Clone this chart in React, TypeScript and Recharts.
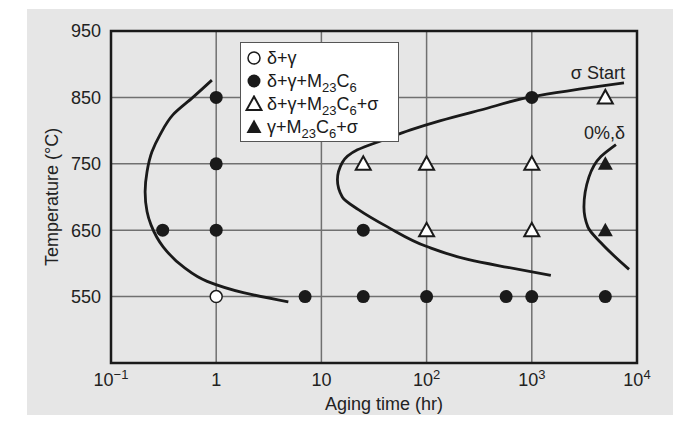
import React from 'react'
import {
  ComposedChart,
  Line,
  Scatter,
  XAxis,
  YAxis,
  CartesianGrid,
  ReferenceArea,
  ReferenceDot,
  Legend,
} from 'recharts'

// aging time (hr) / temperature (°C) observations
const openCircles = [{ t: 1, T: 550 }]
const filledCircles = [
  { t: 1, T: 850 },
  { t: 1, T: 750 },
  { t: 1, T: 650 },
  { t: 0.31, T: 650 },
  { t: 7, T: 550 },
  { t: 25, T: 650 },
  { t: 25, T: 550 },
  { t: 100, T: 550 },
  { t: 570, T: 550 },
  { t: 1000, T: 550 },
  { t: 1000, T: 850 },
  { t: 5000, T: 550 },
]
const openTriangles = [
  { t: 25, T: 750 },
  { t: 100, T: 750 },
  { t: 100, T: 650 },
  { t: 1000, T: 750 },
  { t: 1000, T: 650 },
  { t: 5000, T: 850 },
]
const filledTriangles = [
  { t: 5000, T: 750 },
  { t: 5000, T: 650 },
]

// boundary curves
const carbideCurve = [
  { t: 0.91, T: 876 },
  { t: 0.6, T: 850 },
  { t: 0.389, T: 824 },
  { t: 0.293, T: 794 },
  { t: 0.245, T: 768 },
  { t: 0.22, T: 738 },
  { t: 0.211, T: 708 },
  { t: 0.22, T: 678 },
  { t: 0.24, T: 658 },
  { t: 0.313, T: 625 },
  { t: 0.485, T: 595 },
  { t: 0.82, T: 573 },
  { t: 1.81, T: 556 },
  { t: 4.85, T: 542 },
]
const sigmaStartCurve = [
  { t: 7520, T: 872 },
  { t: 1000, T: 851 },
  { t: 327, T: 831 },
  { t: 136, T: 815 },
  { t: 70.5, T: 801 },
  { t: 39, T: 786 },
  { t: 22, T: 771 },
  { t: 15.8, T: 752 },
  { t: 14.2, T: 726 },
  { t: 15.8, T: 700 },
  { t: 22.5, T: 681 },
  { t: 42.5, T: 655 },
  { t: 102, T: 625 },
  { t: 246, T: 606 },
  { t: 590, T: 594 },
  { t: 1517, T: 582 },
]
const deltaZeroCurve = [
  { t: 6310, T: 779 },
  { t: 4540, T: 761 },
  { t: 3490, T: 730 },
  { t: 3130, T: 685 },
  { t: 3410, T: 655 },
  { t: 4540, T: 631 },
  { t: 8400, T: 591 },
]

const xTicks = [0.1, 1, 10, 100, 1000, 10000]
const xTickBase = ['10', '1', '10', '10', '10', '10']
const xTickSup = ['−1', '', '', '2', '3', '4']
const yTicks = [550, 650, 750, 850, 950]

const legendLabels = ['δ+γ', 'δ+γ+M_23C_6', 'δ+γ+M_23C_6+σ', 'γ+M_23C_6+σ']
const legendMarkers = ['openCircle', 'circle', 'openTriangle', 'triangle']

const INK = '#1a1a1a'
const FONT = '"Liberation Sans", Arial, Helvetica, sans-serif'

const drawMarker = (kind: string, cx: number, cy: number) => {
  if (kind === 'circle') return <circle cx={cx} cy={cy} r={6.5} fill={INK} />
  if (kind === 'openCircle')
    return <circle cx={cx} cy={cy} r={6} fill="#fff" stroke={INK} strokeWidth={1.5} />
  const pts = `${cx - 7.5},${cy + 6} ${cx + 7.5},${cy + 6} ${cx},${cy - 7.5}`
  if (kind === 'triangle') return <polygon points={pts} fill={INK} />
  return <polygon points={pts} fill="#fff" stroke={INK} strokeWidth={2} strokeLinejoin="miter" />
}

const shapeOf = (kind: string) => (p: any) => drawMarker(kind, p.cx, p.cy)

const XTick = (props: any) => {
  const { x, y, payload } = props
  const i = xTicks.indexOf(payload.value)
  return (
    <text x={x} y={y + 15} textAnchor="middle" fill="#222" fontSize={18} fontFamily={FONT}>
      {xTickBase[i]}
      {xTickSup[i] && (
        <tspan dy={-7} fontSize={13}>
          {xTickSup[i]}
        </tspan>
      )}
    </text>
  )
}

const renderLabel = (s: string) =>
  s.split(/_(\d+)/).map((part, i) =>
    i % 2 ? (
      <sub key={i} style={{ fontSize: 13, lineHeight: 0 }}>
        {part}
      </sub>
    ) : (
      <span key={i}>{part}</span>
    ),
  )

const LegendBox = () => (
  <div
    style={{
      background: '#fff',
      border: '1px solid #555',
      width: 159,
      height: 100,
      boxSizing: 'border-box',
      padding: '3px 0 0 4px',
      fontFamily: FONT,
      fontSize: 18,
      color: INK,
    }}
  >
    {legendLabels.map((label, i) => (
      <div key={label} style={{ display: 'flex', alignItems: 'center', height: 23 }}>
        <svg width={18} height={18} style={{ marginRight: 4 }}>
          {drawMarker(legendMarkers[i], 9, 9)}
        </svg>
        <span style={{ lineHeight: '18px' }}>{renderLabel(label)}</span>
      </div>
    ))}
  </div>
)

export default function App() {
  return (
    <div style={{ position: 'absolute', left: 0, top: 0, width: 684, height: 425, background: '#fff' }}>
      <div style={{ position: 'absolute', left: 27, top: 9, width: 646, height: 406, background: '#e6e6e6' }} />
      <div style={{ position: 'absolute', left: 0, top: 0 }}>
        <ComposedChart width={684} height={425} margin={{ top: 31, right: 47, bottom: 7, left: 51 }}>
          <CartesianGrid stroke="#707070" strokeWidth={1.5} />
          <XAxis
            dataKey="t"
            type="number"
            scale="log"
            domain={[0.1, 10000]}
            ticks={xTicks}
            interval={0}
            allowDataOverflow
            axisLine={false}
            tickLine={false}
            height={55}
            tick={<XTick />}
            label={{
              content: (p: any) => (
                <text
                  x={p.viewBox.x + p.viewBox.width / 2 + 10}
                  y={p.viewBox.y + 47}
                  textAnchor="middle"
                  fontSize={18}
                  fill="#222"
                  fontFamily={FONT}
                >
                  Aging time (hr)
                </text>
              ),
            }}
          />
          <YAxis
            dataKey="T"
            type="number"
            domain={[450, 950]}
            ticks={yTicks}
            interval={0}
            allowDataOverflow
            axisLine={false}
            tickLine={false}
            width={60}
            tickMargin={4}
            tick={{ fontSize: 18, fill: '#222', fontFamily: FONT }}
            label={{
              content: (p: any) => {
                const cx = 52
                const cy = p.viewBox.y + p.viewBox.height / 2
                return (
                  <text
                    x={cx}
                    y={cy}
                    transform={`rotate(-90 ${cx} ${cy})`}
                    textAnchor="middle"
                    dominantBaseline="central"
                    fontSize={18}
                    fill="#222"
                    fontFamily={FONT}
                  >
                    Temperature (°C)
                  </text>
                )
              },
            }}
          />
          <ReferenceArea x1={0.1} x2={10000} y1={450} y2={950} fill="none" stroke={INK} strokeWidth={2.5} />
          <Line data={carbideCurve} dataKey="T" type="monotoneY" stroke={INK} strokeWidth={2.8} dot={false} isAnimationActive={false} />
          <Line data={sigmaStartCurve} dataKey="T" type="monotoneY" stroke={INK} strokeWidth={2.8} dot={false} isAnimationActive={false} />
          <Line data={deltaZeroCurve} dataKey="T" type="monotoneY" stroke={INK} strokeWidth={2.8} dot={false} isAnimationActive={false} />
          <Scatter data={openCircles} dataKey="T" shape={shapeOf('openCircle')} isAnimationActive={false} />
          <Scatter data={filledCircles} dataKey="T" shape={shapeOf('circle')} isAnimationActive={false} />
          <Scatter data={openTriangles} dataKey="T" shape={shapeOf('openTriangle')} isAnimationActive={false} />
          <Scatter data={filledTriangles} dataKey="T" shape={shapeOf('triangle')} isAnimationActive={false} />
          <ReferenceDot
            x={7690}
            y={887}
            r={0}
            label={{ value: 'σ Start', position: 'left', offset: 0, fontSize: 18, fill: '#222', fontFamily: FONT }}
          />
          <ReferenceDot
            x={7690}
            y={797}
            r={0}
            label={{ value: '0%,δ', position: 'left', offset: 0, fontSize: 18, fill: '#222', fontFamily: FONT }}
          />
          <Legend
            layout="vertical"
            align="center"
            verticalAlign="middle"
            content={() => <LegendBox />}
            wrapperStyle={{ position: 'absolute', left: 240, top: 42, width: 159, height: 100 }}
          />
        </ComposedChart>
      </div>
    </div>
  )
}
